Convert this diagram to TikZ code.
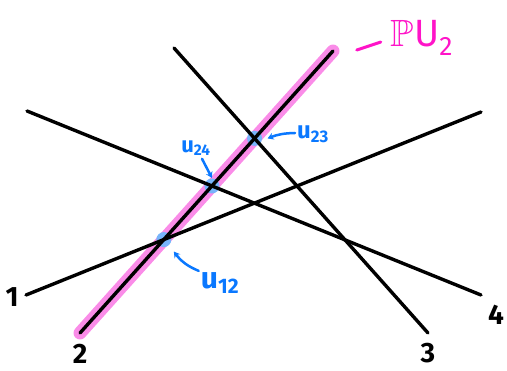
\documentclass[tikz,border=0pt]{standalone}
\usepackage{amssymb}
\usepackage{fontspec}
\setsansfont{Fira Sans}
\usetikzlibrary{arrows.meta, calc}
\definecolor{pinkhl}{RGB}{250,140,232}
\definecolor{dotblue}{RGB}{120,180,250}
\definecolor{ublue}{RGB}{10,120,255}
\definecolor{magent}{RGB}{255,20,200}

\begin{document}
\begin{tikzpicture}[
    x=1pt, y=-1pt,
    line/.style={line width=3.4pt, line cap=round, black},
    highlight/.style={line width=13pt, line cap=round, pinkhl},
    dot/.style={circle, fill=dotblue, inner sep=0pt, minimum size=15pt},
    ulabel/.style={text=ublue, font=\sffamily\bfseries\fontsize{30}{32}\selectfont, inner sep=1pt},
    num/.style={font=\sffamily\bfseries\fontsize{28}{30}\selectfont, inner sep=0pt},
    pointer/.style={-{Stealth[length=6pt, width=7pt]}, line width=2.5pt, ublue, line cap=round}
]
\useasboundingbox (0,0) rectangle (507,371);

% end points of the four lines
\coordinate (a1) at (26,295);  \coordinate (b1) at (481,112);
\coordinate (a2) at (80,333);  \coordinate (b2) at (333,51);
\coordinate (a3) at (174,48);  \coordinate (b3) at (428,333);
\coordinate (a4) at (27,111);  \coordinate (b4) at (481,295);

% intersection points
\coordinate (u12) at (intersection of a1--b1 and a2--b2);
\coordinate (u24) at (intersection of a2--b2 and a4--b4);
\coordinate (u23) at (intersection of a2--b2 and a3--b3);

% highlighted line
\draw[highlight] (a2) -- (b2);
\foreach \p in {u12, u24, u23}
    \node[dot] at (\p) {};

% the lines
\draw[line] (a1) -- (b1);
\draw[line] (a2) -- (b2);
\draw[line] (a3) -- (b3);
\draw[line] (a4) -- (b4);

% line numbers
\node[num] (n1) at (12,297) {1};
\node[num] (n2) at (80,354) {2};
\node[num] (n3) at (428,353) {3};
\node[num] (n4) at (496,315) {4};

% intersection labels
\node[ulabel] (l12) at (220,283) {u\textsubscript{12}};
\node[ulabel, font=\sffamily\bfseries\fontsize{22}{24}\selectfont] (l24) at (196,148) {u\textsubscript{24}};
\node[ulabel, font=\sffamily\bfseries\fontsize{24}{26}\selectfont] (l23) at (313,134) {u\textsubscript{23}};

\draw[pointer] (l12.north west) ++(-1,0) coordinate (p12) to[bend left=15] ($(u12)+(10,12)$);
\draw[pointer] (l24.south) ++(6,2) coordinate (p24) -- ($(u24)+(0,-8)$);
\draw[pointer] (l23.west) ++(-1,-1) coordinate (p23) to[bend right=10] ($(u23)+(13,0)$);

% projective line label
\node[text=magent, font=\fontsize{38}{40}\selectfont, inner sep=0pt] (pu) at (422,38) {$\mathbb{P}\mathsf{U}_{\mathsf{2}}$};
\draw[magent, line width=3pt, line cap=round] (pu.west) ++(-10,4) coordinate (m1) -- ++(-24,8);
\end{tikzpicture}
\end{document}
